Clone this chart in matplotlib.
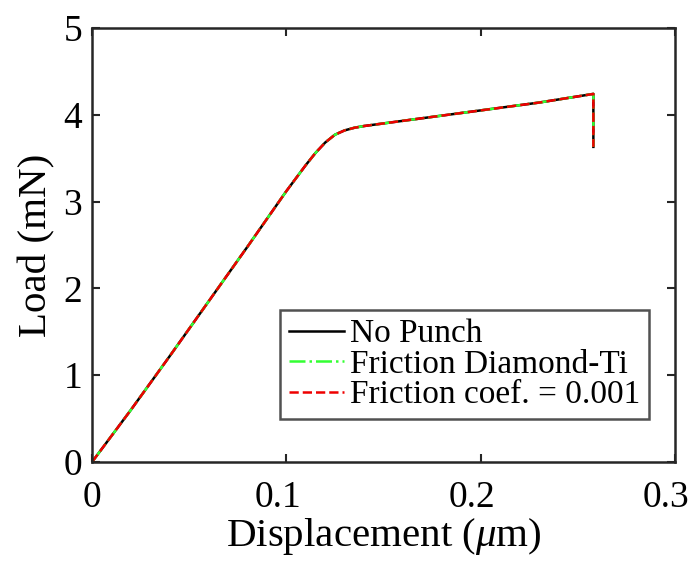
import matplotlib
matplotlib.use('Agg')
import matplotlib.pyplot as plt
from matplotlib.transforms import ScaledTranslation

plt.rcParams['font.family'] = 'Liberation Serif'
plt.rcParams['mathtext.fontset'] = 'custom'
plt.rcParams['mathtext.rm'] = 'Liberation Serif'
plt.rcParams['mathtext.it'] = 'Liberation Serif:italic'

# load-displacement curve (all three cases overlap)
displacement = [0, 0.02, 0.04, 0.06, 0.08, 0.10, 0.11, 0.115, 0.12, 0.125, 0.13,
                0.135, 0.14, 0.15, 0.17, 0.20, 0.23, 0.258, 0.258]
load_no_punch = [0, 0.60, 1.22, 1.85, 2.48, 3.12, 3.42, 3.56, 3.68, 3.77, 3.82,
                 3.85, 3.87, 3.90, 3.96, 4.05, 4.14, 4.24, 3.63]
load_diamond_ti = list(load_no_punch)
load_coef_001 = list(load_no_punch)

xticks = [0, 0.1, 0.2, 0.3]
xticklabels = ['0', '0.1', '0.2', '0.3']
yticks = [0, 1, 2, 3, 4, 5]

fig = plt.figure(figsize=(6.94, 5.63), dpi=100)
ax = fig.add_axes([0.1326, 0.1794, 0.840, 0.771])

ax.plot(displacement, load_no_punch, '-', color='black', lw=1.8, label='No Punch')
ax.plot(displacement, load_diamond_ti, '-.', color='#33ff33', lw=1.8, label='Friction Diamond-Ti')
ax.plot(displacement, load_coef_001, '--', color='#ee0000', lw=1.8, label='Friction coef. = 0.001')

ax.set_xlim(0, 0.3)
ax.set_ylim(0, 5)
ax.set_xticks(xticks)
ax.set_xticklabels(xticklabels)
ax.set_yticks(yticks)
ax.tick_params(direction='in', top=True, right=True, length=6, width=1.5,
               labelsize=27, colors='#262626', labelcolor='black')
ax.tick_params(axis='x', pad=13)
ax.tick_params(axis='y', pad=7)
for s in ax.spines.values():
    s.set_linewidth(1.8)
    s.set_color('#262626')

# decimal labels sit a little left of their ticks
for lbl in ax.get_xticklabels()[1:]:
    lbl.set_transform(lbl.get_transform() + ScaledTranslation(-0.085, 0, fig.dpi_scale_trans))

ax.set_xlabel(r'Displacement ($\mu$m)', fontsize=29.5, labelpad=1)
ax.set_ylabel('Load (mN)', fontsize=29.5, labelpad=6)

leg = ax.legend(loc='lower right', bbox_to_anchor=(0.955, 0.1), fontsize=24,
                frameon=True, fancybox=False, handlelength=1.65, handletextpad=0.2,
                borderpad=0.25, labelspacing=0.0, borderaxespad=0)
leg.get_frame().set_edgecolor('#262626')
leg.get_frame().set_linewidth(1.8)

fig.savefig('out.png', dpi=100)
